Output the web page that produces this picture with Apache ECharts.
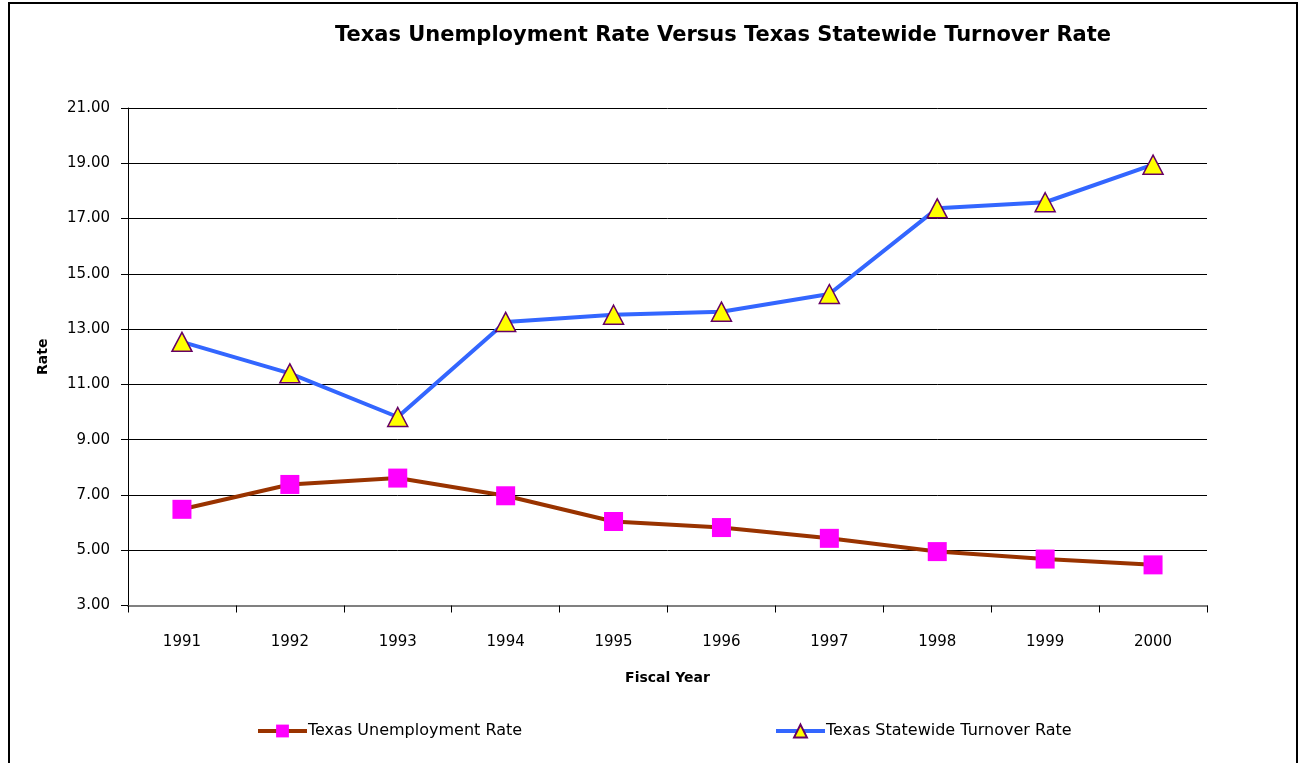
<!DOCTYPE html>
<html>
<head>
<meta charset="utf-8">
<script src="https://cdn.jsdelivr.net/npm/echarts@6/dist/echarts.min.js"></script>
<style>
  html, body { margin: 0; padding: 0; background: #fff; }
  #chart { width: 1299px; height: 763px; }
</style>
</head>
<body>
<div id="chart"></div>
<script>
// Fiscal years on the category axis
var years = ['1991', '1992', '1993', '1994', '1995', '1996', '1997', '1998', '1999', '2000'];

// Rates in percent
var unemploymentRate = [6.48, 7.38, 7.61, 6.97, 6.04, 5.82, 5.43, 4.95, 4.68, 4.47];
var turnoverRate = [12.54, 11.40, 9.82, 13.26, 13.52, 13.63, 14.27, 17.37, 17.59, 18.95];

var seriesNames = ['Texas Unemployment Rate', 'Texas Statewide Turnover Rate'];
var titleText = 'Texas Unemployment Rate Versus Texas Statewide Turnover Rate';

var FONT = 'DejaVu Sans';
var chart = echarts.init(document.getElementById('chart'), null, { renderer: 'canvas' });

// one legend box per series so each entry sits at its own spot
function legendAt(name, left) {
  return {
    data: [name],
    left: left, top: 718,
    itemWidth: 49, itemHeight: 16,
    itemGap: 0,
    lineStyle: { width: 4 },
    textStyle: { fontFamily: FONT, fontSize: 16, color: '#000', padding: [0, 0, 0, -4] }
  };
}

chart.setOption({
  backgroundColor: '#ffffff',
  animation: false,
  title: {
    text: titleText,
    left: 718,
    top: 20,
    textAlign: 'center',
    textStyle: { fontFamily: FONT, fontSize: 21, fontWeight: 'bold', color: '#000' }
  },
  graphic: [{
    type: 'rect',
    shape: { x: 9, y: 3, width: 1288, height: 800 },
    style: { fill: 'none', stroke: '#000', lineWidth: 2 },
    silent: true
  }],
  legend: [legendAt(seriesNames[0], 251), legendAt(seriesNames[1], 769)],
  grid: { left: 128, top: 108, right: 92, bottom: 157.5, containLabel: false },
  xAxis: {
    type: 'category',
    data: years,
    boundaryGap: true,
    name: 'Fiscal Year',
    nameLocation: 'middle',
    nameGap: 66,
    nameTextStyle: { fontFamily: FONT, fontSize: 14, fontWeight: 'bold', color: '#000', verticalAlign: 'top' },
    axisLine: { lineStyle: { color: '#808080', width: 2 } },
    axisTick: { show: true, inside: false, length: 7, alignWithLabel: false, lineStyle: { color: '#000', width: 1 } },
    axisLabel: { fontFamily: FONT, fontSize: 15, color: '#000', margin: 29 },
    splitLine: { show: false }
  },
  yAxis: {
    type: 'value',
    min: 3,
    max: 21,
    interval: 2,
    name: 'Rate',
    nameLocation: 'middle',
    nameGap: 78,
    nameRotate: 90,
    nameTextStyle: { fontFamily: FONT, fontSize: 14, fontWeight: 'bold', color: '#000' },
    axisLine: { show: true, lineStyle: { color: '#000', width: 1 } },
    axisTick: { show: true, inside: false, length: 7, lineStyle: { color: '#000', width: 1 } },
    axisLabel: {
      fontFamily: FONT, fontSize: 15, color: '#000', margin: 18,
      formatter: function (v) { return v.toFixed(2); }
    },
    splitLine: { show: true, lineStyle: { color: '#000', width: 1 } }
  },
  series: [{
    name: seriesNames[0],
    type: 'line',
    data: unemploymentRate,
    symbol: 'rect',
    symbolSize: 19,
    lineStyle: { color: '#993300', width: 4 },
    itemStyle: { color: '#FF00FF', borderWidth: 0 },
    z: 3
  }, {
    name: seriesNames[1],
    type: 'line',
    data: turnoverRate,
    symbol: 'triangle',
    symbolSize: [20, 19],
    lineStyle: { color: '#3366FF', width: 4 },
    itemStyle: { color: '#FFFF00', borderColor: '#660066', borderWidth: 1.5 },
    z: 3
  }]
});
</script>
</body>
</html>
